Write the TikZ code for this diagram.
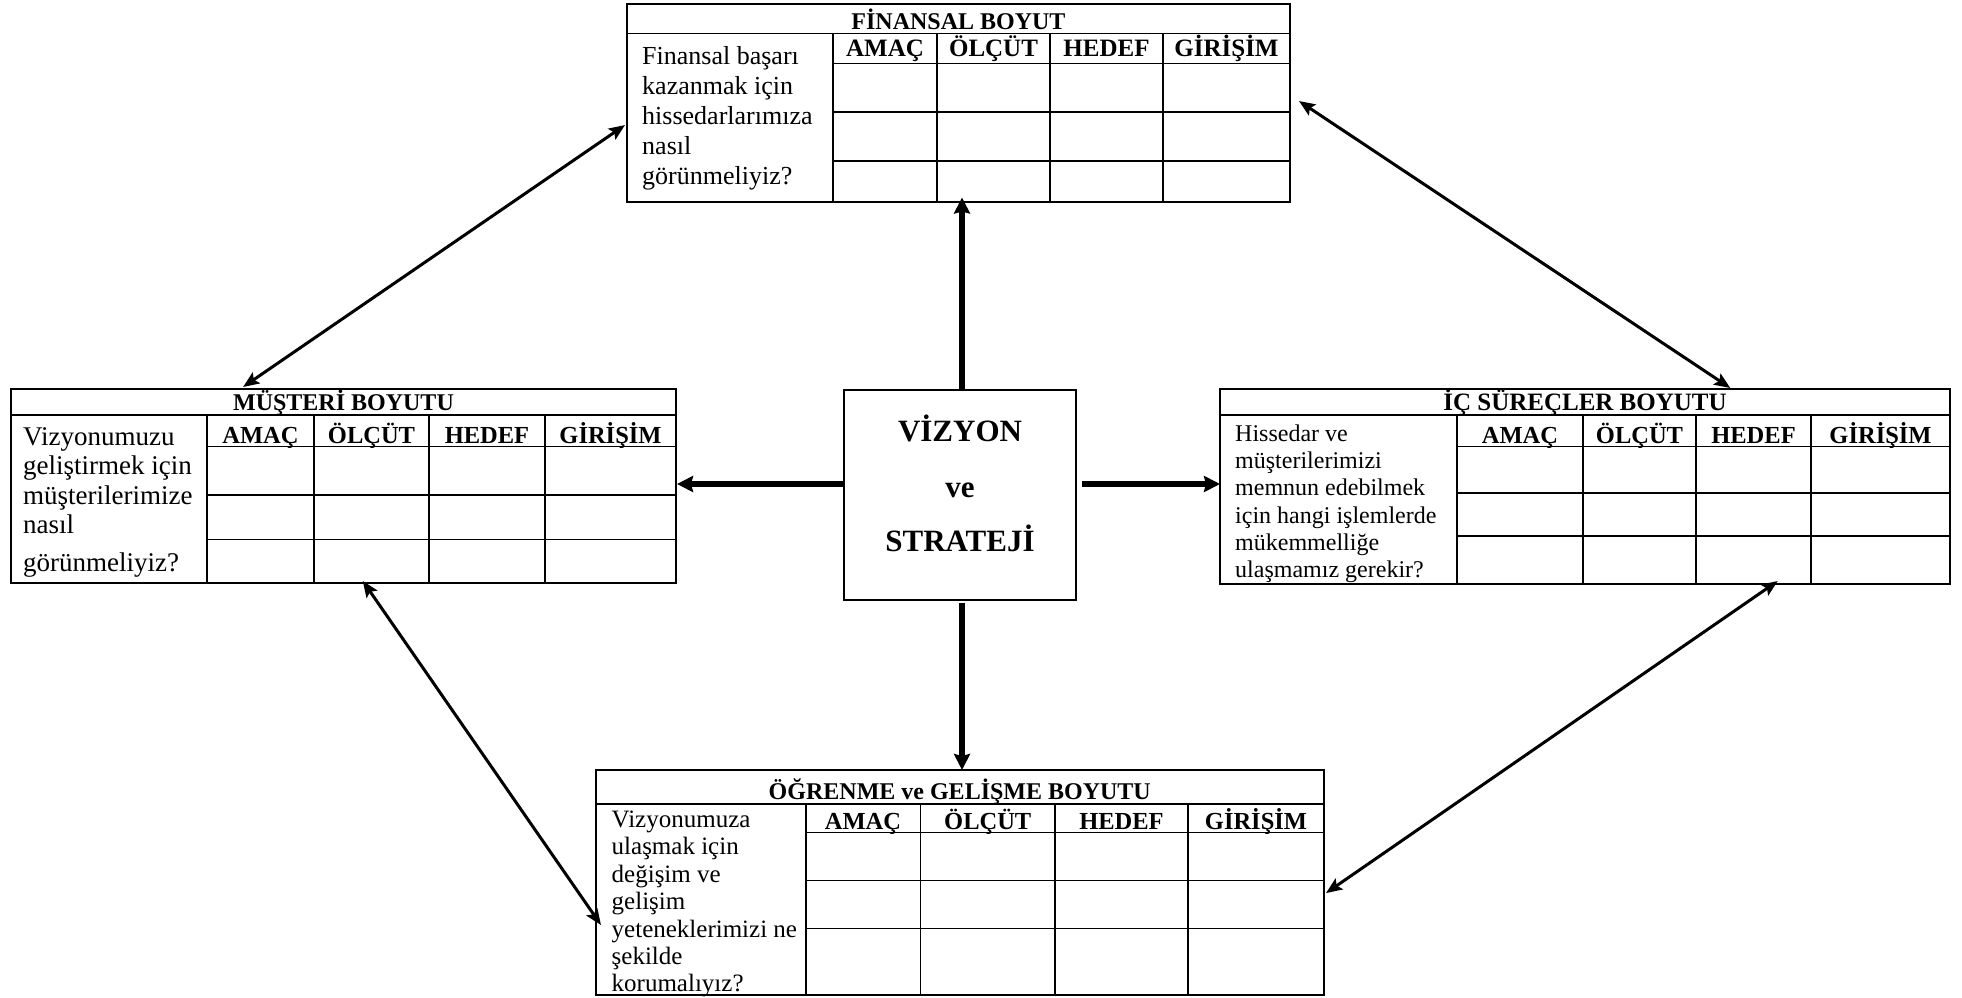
\documentclass[tikz,border=0pt]{standalone}
\usepackage{fontspec}
\setmainfont{Liberation Serif}
\usetikzlibrary{arrows.meta,calc,fit}

% left-column question text: top-aligned paragraph, first baseline at the node's base
\newcommand\soru[2]{\parbox[t]{#1}{\lineskiplimit=-100pt\raggedright #2}}

\begin{document}
\begin{tikzpicture}[x=1pt,y=-1pt,
  frame/.style={draw,line width=2pt,inner sep=0pt,outer sep=0pt},
  rule/.style={line width=1.7pt},
  baslik/.style={font=\fontsize{24}{28}\selectfont\bfseries,anchor=base,inner sep=0pt},
  kolon/.style={font=\fontsize{24.5}{28}\selectfont\bfseries,anchor=base,inner sep=0pt},
  metin/.style={anchor=base west,inner sep=0pt},
  buyuk/.style={font=\fontsize{31}{36}\selectfont\bfseries,anchor=base,inner sep=0pt},
  link/.style={line width=3pt,{Stealth[length=16pt,width=13pt,inset=3pt]}-{Stealth[length=16pt,width=13pt,inset=3pt]}},
  flow/.style={line width=5.5pt,-{Stealth[length=16pt,width=16pt,inset=2pt]}}
]
\useasboundingbox (0,0) rectangle (1962,998);

% ---------------- FİNANSAL BOYUT ----------------
\node[frame,fit={(627,4.5) (1290,201.5)}] (fin) {};
\draw[rule] (627,33.5) -- (1290,33.5);
\draw[rule] (833,33.5) -- (833,201.5);
\foreach \y in {63.5,112,161} \draw[rule] (833,\y) -- (1290,\y);
\foreach \x in {937,1050,1163} \draw[rule] (\x,33.5) -- (\x,201.5);
\node[baslik] (finT) at (958.5,29.5) {FİNANSAL BOYUT};
\node[kolon,font=\fontsize{25}{28}\selectfont\bfseries] (finA) at (885,57) {AMAÇ};
\node[kolon,font=\fontsize{25}{28}\selectfont\bfseries] (finO) at (993.5,57) {ÖLÇÜT};
\node[kolon,font=\fontsize{25}{28}\selectfont\bfseries] (finH) at (1106.5,57) {HEDEF};
\node[kolon,font=\fontsize{25}{28}\selectfont\bfseries] (finG) at (1226.5,57) {GİRİŞİM};
\node[metin,font=\fontsize{26}{30}\selectfont] (finQ) at (642,64)
  {\soru{190pt}{Finansal başarı\\kazanmak için\\hissedarlarımıza\\nasıl\\görünmeliyiz?}};

% ---------------- MÜŞTERİ BOYUTU ----------------
\node[frame,fit={(11,389) (676,582.5)}] (mus) {};
\draw[rule] (11,415) -- (676,415);
\draw[rule] (207,415) -- (207,582.5);
\foreach \y in {446.5,495,539.5} \draw[rule] (207,\y) -- (676,\y);
\foreach \x in {314,429,545} \draw[rule] (\x,415) -- (\x,582.5);
\node[baslik] (musT) at (343.5,410) {MÜŞTERİ BOYUTU};
\node[kolon] (musA) at (260.5,443) {AMAÇ};
\node[kolon] (musO) at (371.5,443) {ÖLÇÜT};
\node[kolon] (musH) at (487,443) {HEDEF};
\node[kolon] (musG) at (610.5,443) {GİRİŞİM};
\node[metin,font=\fontsize{27}{29.5}\selectfont] (musQ) at (23,445)
  {\soru{180pt}{Vizyonumuzu\\geliştirmek için\\müşterilerimize\\nasıl\\[8pt]görünmeliyiz?}};

% ---------------- İÇ SÜREÇLER BOYUTU ----------------
\node[frame,fit={(1220,389) (1950,584)}] (ics) {};
\draw[rule] (1220,415) -- (1950,415);
\draw[rule] (1457,415) -- (1457,584);
\foreach \y in {446.5,493,536} \draw[rule] (1457,\y) -- (1950,\y);
\foreach \x in {1583,1696,1811} \draw[rule] (\x,415) -- (\x,584);
\node[baslik,font=\fontsize{25}{28}\selectfont\bfseries] (icsT) at (1585,410.5) {İÇ SÜREÇLER BOYUTU};
\node[kolon] (icsA) at (1520,443) {AMAÇ};
\node[kolon] (icsO) at (1639.5,443) {ÖLÇÜT};
\node[kolon] (icsH) at (1753.5,443) {HEDEF};
\node[kolon] (icsG) at (1880.5,443) {GİRİŞİM};
\node[metin,font=\fontsize{24}{27.2}\selectfont] (icsQ) at (1235,441.5)
  {\soru{220pt}{Hissedar ve\\müşterilerimizi\\memnun edebilmek\\için hangi işlemlerde\\mükemmelliğe\\ulaşmamız gerekir?}};

% ---------------- ÖĞRENME ve GELİŞME BOYUTU ----------------
\node[frame,fit={(595.5,770) (1324,995)}] (ogr) {};
\draw[rule] (595.5,804) -- (1324,804);
\draw[rule] (806,804) -- (806,995);
\foreach \y in {832.5,880.5,928.5} \draw[rule] (806,\y) -- (1324,\y);
\foreach \x in {920.5,1055,1188} \draw[rule] (\x,804) -- (\x,995);
\node[baslik] (ogrT) at (959.75,799) {ÖĞRENME ve GELİŞME BOYUTU};
\node[kolon] (ogrA) at (863,829) {AMAÇ};
\node[kolon] (ogrO) at (987.75,829) {ÖLÇÜT};
\node[kolon] (ogrH) at (1121.5,829) {HEDEF};
\node[kolon] (ogrG) at (1256,829) {GİRİŞİM};
\node[metin,font=\fontsize{25}{27.4}\selectfont] (ogrQ) at (611.5,827.5)
  {\soru{195pt}{Vizyonumuza\\ulaşmak için\\değişim ve\\gelişim\\yeteneklerimizi ne\\şekilde\\korumalıyız?}};

% ---------------- VİZYON ve STRATEJİ ----------------
\node[frame,fit={(844,390) (1076,600)}] (viz) {};
\node[buyuk] (vizA) at (960,441.7) {VİZYON};
\node[buyuk] (vizB) at (960,497) {ve};
\node[buyuk] (vizC) at (960,551.7) {STRATEJİ};

% thick arrows from the centre box to the four perspectives
\draw[flow] ($(viz.north)+(2,0)$) -- ($(viz.north |- fin.south)+(2,-4)$);
\draw[flow] ($(viz.south)+(2,3)$) -- ($(viz.south |- ogr.north)+(2,0)$);
\draw[flow] ($(viz.west)+(0,-11)$) -- ($(viz.west -| mus.east)+(1,-11)$);
\draw[flow] ($(viz.east)+(6,-11)$) -- ($(viz.east -| ics.west)+(0,-11)$);

% thin two-way links between neighbouring perspectives
\draw[link] ($(fin.north west)!0.612!(fin.south west)+(-2,0)$) -- ($(mus.north west)!0.349!(mus.north east)+(0,-2)$);
\draw[link] ($(fin.north east)!0.49!(fin.south east)+(9,0)$) -- ($(ics.north west)!0.699!(ics.north east)+(0,-1)$);
\draw[link] ($(mus.south west)!0.529!(mus.south east)+(0,-1.5)$) -- ($(ogr.north west)!0.689!(ogr.south west)+(5.5,0)$);
\draw[link] ($(ics.south west)!0.764!(ics.south east)+(0,-3)$) -- ($(ogr.north east)!0.547!(ogr.south east)+(2,0)$);
\end{tikzpicture}
\end{document}
